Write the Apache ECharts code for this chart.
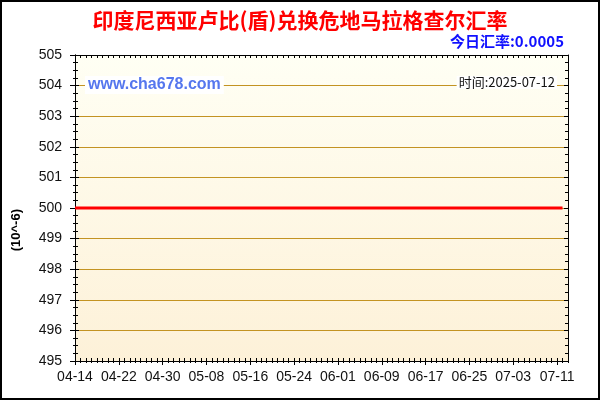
<!DOCTYPE html>
<html><head><meta charset="utf-8">
<script src="https://cdn.jsdelivr.net/npm/echarts@6/dist/echarts.min.js"></script>
<style>html,body{margin:0;padding:0;background:#fff}#c{width:600px;height:400px;box-sizing:border-box;border:2px solid #000}</style>
</head><body><div id="c"></div>
<script>
var dates = [
'04-14','04-15','04-16','04-17','04-18','04-19','04-20','04-21','04-22','04-23','04-24','04-25','04-26','04-27','04-28','04-29','04-30',
'05-01','05-02','05-03','05-04','05-05','05-06','05-07','05-08','05-09','05-10','05-11','05-12','05-13','05-14','05-15','05-16','05-17','05-18','05-19','05-20','05-21','05-22','05-23','05-24','05-25','05-26','05-27','05-28','05-29','05-30','05-31',
'06-01','06-02','06-03','06-04','06-05','06-06','06-07','06-08','06-09','06-10','06-11','06-12','06-13','06-14','06-15','06-16','06-17','06-18','06-19','06-20','06-21','06-22','06-23','06-24','06-25','06-26','06-27','06-28','06-29','06-30',
'07-01','07-02','07-03','07-04','07-05','07-06','07-07','07-08','07-09','07-10','07-11','07-12','07-13'];
// rate in units of 10^-6
var rates = [
500,500,500,500,500,500,500,500,500,500,500,500,500,500,500,500,500,
500,500,500,500,500,500,500,500,500,500,500,500,500,500,500,500,500,500,500,500,500,500,500,500,500,500,500,500,500,500,500,
500,500,500,500,500,500,500,500,500,500,500,500,500,500,500,500,500,500,500,500,500,500,500,500,500,500,500,500,500,500,
500,500,500,500,500,500,500,500,500,500,500,500,null];
var yMin = 495, yMax = 505, yStep = 1;
var titleText = '印度尼西亚卢比(盾)兑换危地马拉格查尔汇率';
var rateText = '今日汇率:0.0005';
var siteText = 'www.cha678.com';
var timeText = '时间:2025-07-12';
var unitText = '(10^-6)';

var chart = echarts.init(document.getElementById('c'), null, {renderer:'canvas'});
var font = 'Arial, "Liberation Sans", sans-serif';
var gridColor = '#c39322';
var lineBlack = {show:true, lineStyle:{color:'#000', width:1}};
function xa(opts){
  return Object.assign({type:'category', data:dates, boundaryGap:false, axisLine:lineBlack,
    axisLabel:{show:false}, splitLine:{show:false}}, opts);
}
function ya(opts){
  return Object.assign({type:'value', min:yMin, max:yMax, interval:yStep, axisLine:lineBlack,
    axisLabel:{show:false}, splitLine:{show:false}}, opts);
}
chart.setOption({
  animation:false,
  grid:{left:73, right:30, top:53, bottom:37, show:true, borderWidth:0,
    backgroundColor:new echarts.graphic.LinearGradient(0,0,0,1,[{offset:0,color:'#fffff4'},{offset:1,color:'#fdf1d8'}])},
  xAxis:[
    xa({position:'bottom', axisTick:{show:true, interval:7, length:4, lineStyle:{color:'#000'}},
      axisLabel:{show:true, interval:7, color:'#111', fontSize:14, fontFamily:font, margin:9}}),
    xa({position:'bottom', axisTick:{show:true, interval:0, length:2, lineStyle:{color:'#000'}}}),
    xa({position:'bottom', axisTick:{show:true, interval:0, inside:true, length:3, lineStyle:{color:'#000'}}}),
    xa({position:'top', axisTick:{show:true, interval:0, inside:true, length:3, lineStyle:{color:'#000'}}})
  ],
  yAxis:[
    ya({position:'left', axisTick:{show:true, length:5, lineStyle:{color:'#000'}},
      minorTick:{show:true, splitNumber:4, length:2, lineStyle:{color:'#000'}},
      axisLabel:{show:true, color:'#111', fontSize:14, fontFamily:font, margin:13},
      splitLine:{show:true, lineStyle:{color:gridColor, width:1}}}),
    ya({position:'left', axisTick:{show:true, inside:true, length:4, lineStyle:{color:'#000'}},
      minorTick:{show:true, splitNumber:4, length:3, lineStyle:{color:'#000'}}}),
    ya({position:'right', axisTick:{show:true, inside:true, length:4, lineStyle:{color:'#000'}},
      minorTick:{show:true, splitNumber:4, length:3, lineStyle:{color:'#000'}}})
  ],
  graphic:[
    {type:'text', left:'center', top:8, style:{text:titleText, fill:'#ff0000', font:'bold 21px "Noto Sans CJK SC", sans-serif'}},
    {type:'text', right:34, top:32, style:{text:rateText, fill:'#1010ff', font:'bold 15px "Noto Sans CJK SC", sans-serif'}},
    {type:'text', left:83, top:74, z:10, style:{text:siteText, fill:'#5577ee', font:'bold 16px Arial, "Liberation Sans", sans-serif', backgroundColor:'#fff', padding:[1,3,1,3]}},
    {type:'text', right:41, top:74, z:10, style:{text:timeText, fill:'#111', font:'13px "Noto Sans CJK SC", sans-serif', backgroundColor:'#fff', padding:[0,2,0,2]}},
    {type:'text', left:8, top:207, rotation:Math.PI/2, originX:0, originY:0, z:10,
      style:{text:unitText, fill:'#000', font:'bold 13px Arial, "Liberation Sans", sans-serif', align:'center', verticalAlign:'middle', x:0, y:0}}
  ],
  series:[{type:'line', data:rates, xAxisIndex:0, yAxisIndex:0, symbol:'none', lineStyle:{color:'#ff0000', width:3}, z:5}]
});
</script></body></html>
